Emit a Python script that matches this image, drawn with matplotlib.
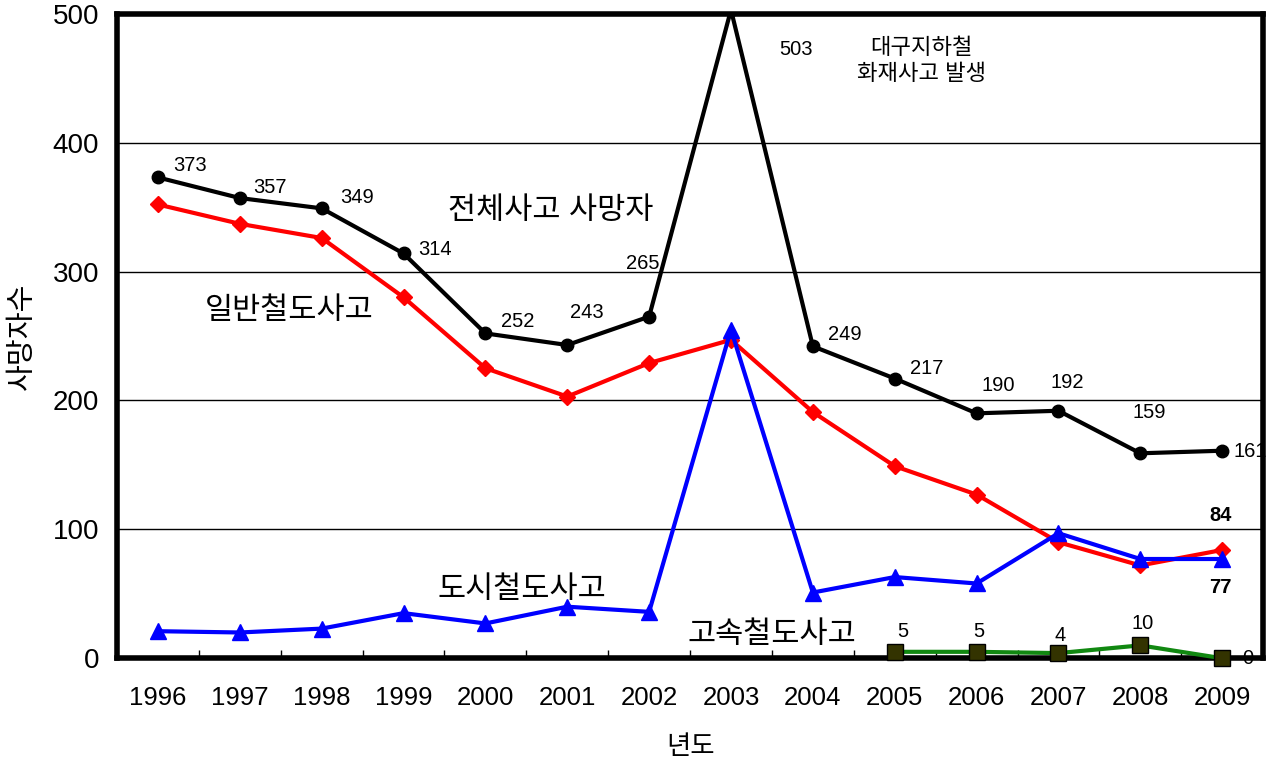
import matplotlib
matplotlib.use('Agg')
import matplotlib.pyplot as plt
import numpy as np

plt.rcParams['font.family'] = ['Liberation Sans', 'Noto Sans CJK KR', 'DejaVu Sans']

years = ['1996', '1997', '1998', '1999', '2000', '2001', '2002',
         '2003', '2004', '2005', '2006', '2007', '2008', '2009']

# 전체사고 사망자 (plotted values) and the labels printed next to them
total = [373, 357, 349, 314, 252, 243, 265, 503, 242, 217, 190, 192, 159, 161]
total_lbl = ['373', '357', '349', '314', '252', '243', '265', '503', '249',
             '217', '190', '192', '159', '161']
# 일반철도사고
general = [352, 337, 326, 280, 225, 203, 229, 247, 191, 149, 127, 90, 72, 84]
# 도시철도사고
urban = [21, 20, 23, 35, 27, 40, 36, 255, 51, 63, 58, 97, 77, 77]
# 고속철도사고 (2005~2009)
ktx_years = [9, 10, 11, 12, 13]
ktx = [5, 5, 4, 10, 0]

fig = plt.figure(figsize=(12.72, 7.61), dpi=100)
ax = fig.add_axes([0.092, 0.135, 0.901, 0.847])

x = np.arange(len(years))

ax.plot(x, total, color='black', lw=3, marker='o', ms=9, zorder=5)
ax.plot(x, general, color='#ff0000', lw=3, marker='D', ms=8, zorder=4)
ax.plot(x, urban, color='#0000ff', lw=3, marker='^', ms=11, zorder=6)
ax.plot(ktx_years, ktx, color='#118811', lw=3, marker='s', ms=11,
        mfc='#333300', mec='black', zorder=7, clip_on=False)

ax.set_xlim(-0.5, 13.5)
ax.set_ylim(0, 500)
ax.set_yticks([0, 100, 200, 300, 400, 500])
ax.set_xticks(x)
ax.set_xticklabels(years)
ax.set_xticks(np.arange(-0.5, 13.6, 1), minor=True)
ax.tick_params(axis='x', which='major', length=0, pad=20, labelsize=18.5)
ax.tick_params(axis='x', which='minor', direction='in', length=6, width=1)
ax.tick_params(axis='y', length=0, pad=13, labelsize=20)
ax.grid(axis='y', color='black', lw=1)
ax.set_axisbelow(True)
for s in ax.spines.values():
    s.set_linewidth(4)

ax.set_ylabel('사망자수', fontsize=21, labelpad=12)
ax.set_xlabel('년도', fontsize=19, labelpad=18)

# data labels for the total series (offsets in pixels)
offs = [(32, 12), (30, 11), (35, 11), (31, 4), (32, 12), (20, 33), (-6, 53),
        (0, 0), (32, 12), (32, 10), (22, 28), (9, 28), (9, 41), (28, -1)]
for i, (v, t) in enumerate(zip(total, total_lbl)):
    if i == 7:
        continue
    ax.annotate(t, (x[i], v), xytext=offs[i], textcoords='offset pixels',
                ha='center', va='center', fontsize=14.5)
ax.text(7.8, 472, total_lbl[7], ha='center', va='center', fontsize=14.5)

ax.annotate(str(general[-1]), (x[-1], general[-1]), xytext=(-2, 34),
            textcoords='offset pixels', ha='center', va='center',
            fontsize=14.5, fontweight='bold')
ax.annotate(str(urban[-1]), (x[-1], urban[-1]), xytext=(-2, -28),
            textcoords='offset pixels', ha='center', va='center',
            fontsize=14.5, fontweight='bold')

koffs = [(8, 20), (2, 20), (2, 18), (2, 22), (26, 0)]
for xi, v, o in zip(ktx_years, ktx, koffs):
    ax.annotate(str(v), (xi, v), xytext=o, textcoords='offset pixels',
                ha='center', va='center', fontsize=14.5)

kw = dict(ha='center', va='center', fontsize=22, fontweight='medium')
ax.text(4.8, 347, '전체사고 사망자', **kw)
ax.text(1.6, 269, '일반철도사고', **kw)
ax.text(4.45, 53, '도시철도사고', **kw)
ax.text(7.5, 18, '고속철도사고', **kw)
ax.text(9.33, 463, '대구지하철\n화재사고 발생', ha='center', va='center',
        fontsize=16, linespacing=1.3)

fig.savefig('out.png', dpi=100)
